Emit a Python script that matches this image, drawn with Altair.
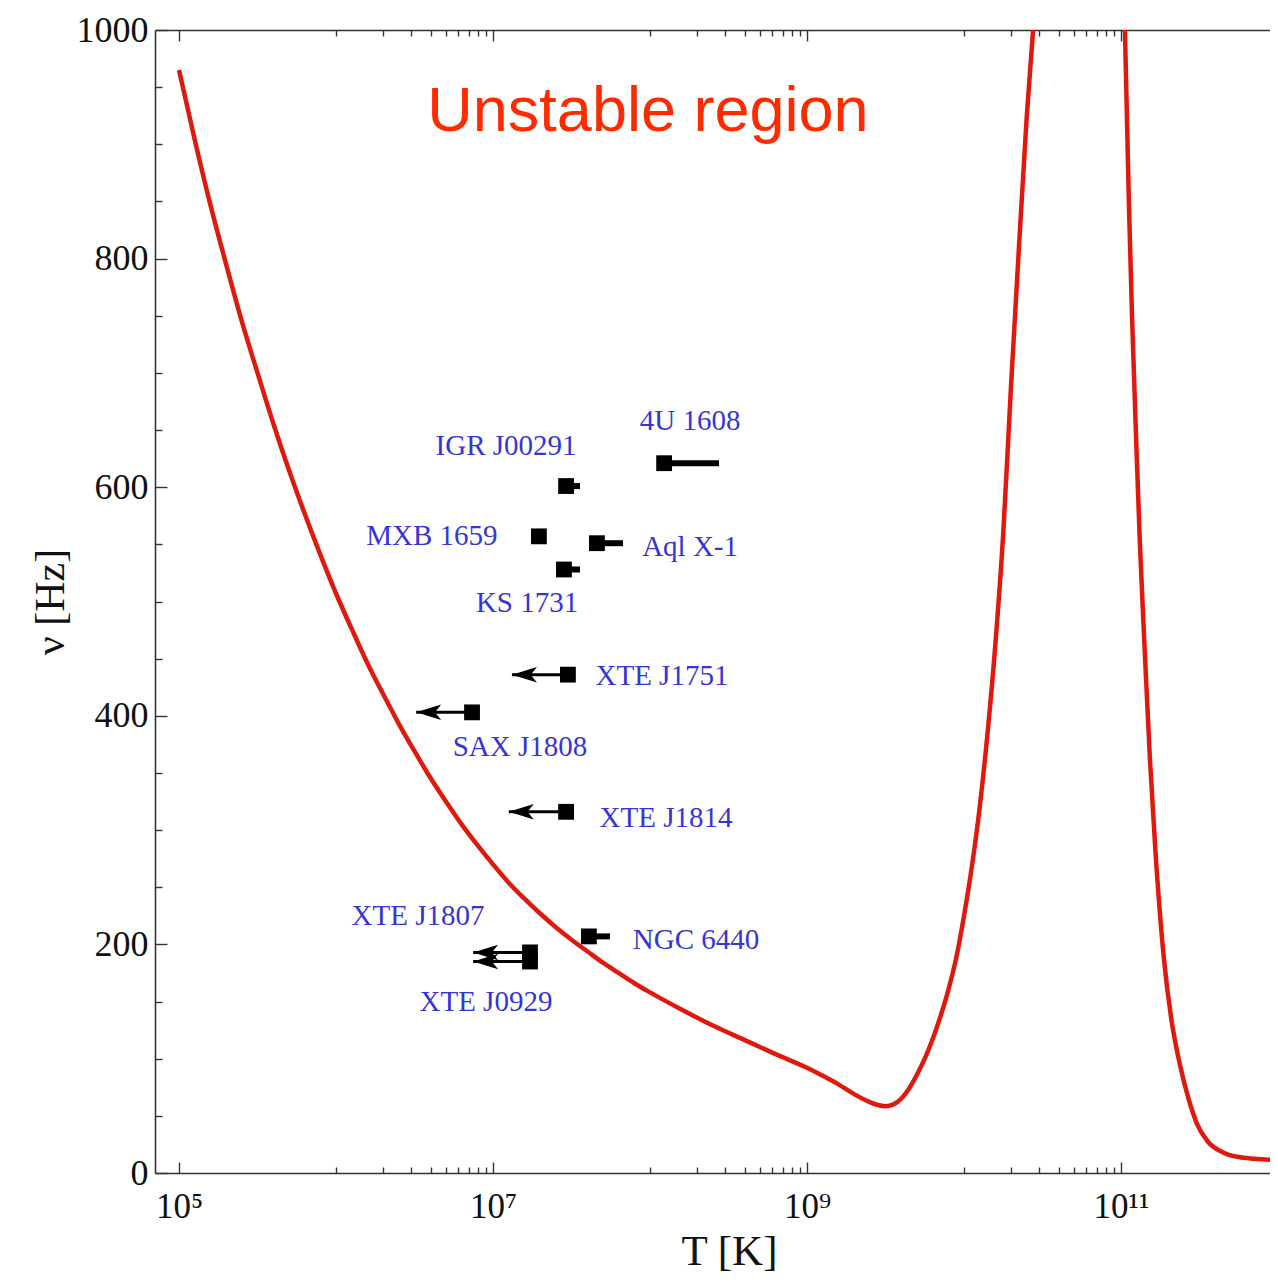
import altair as alt
import pandas as pd

# ---------------- instability curve ----------------
curve_logT = [5.0, 5.1, 5.2, 5.3, 5.4, 5.5, 5.6, 5.7, 5.8, 5.9,
              6.0, 6.1, 6.2, 6.3, 6.4, 6.5, 6.6, 6.7, 6.8, 6.9,
              7.0, 7.1, 7.2, 7.3, 7.4, 7.5, 7.6, 7.7, 7.8, 7.9,
              8.0, 8.2, 8.4, 8.6, 8.8, 9.0, 9.1, 9.2, 9.3, 9.4,
              9.45, 9.5, 9.55, 9.6, 9.65, 9.7, 9.75, 9.8, 9.85, 9.9,
              9.95, 10.0, 10.05, 10.1, 10.15, 10.2, 10.25, 10.3, 10.35, 10.4,
              10.44,
              11.025, 11.05, 11.07, 11.1, 11.12, 11.15, 11.185, 11.22, 11.27, 11.32,
              11.375, 11.43, 11.484, 11.55, 11.65, 11.75, 11.85, 11.95]
curve_nu = [965, 904, 847, 795, 745, 700, 656, 615, 577, 541,
            507, 476, 446, 419, 393, 369, 346, 325, 305, 287,
            270, 254, 240, 227, 215, 204, 194, 184, 175, 166,
            158, 143, 129, 116.5, 104, 92, 85, 77.5, 69, 62,
            59.5, 58.5, 60, 65, 74, 86, 100, 117, 137, 160,
            188, 225, 268, 320, 385, 463, 560, 690, 810, 925,
            1000,
            1000, 850, 750, 628, 552, 460, 360, 280, 192, 135,
            95, 65, 43, 28, 18, 14, 12.5, 11.5]
curve_branch = ["low"] * 61 + ["high"] * 18

# ---------------- sources ----------------
src_names = ["4U 1608", "IGR J00291", "MXB 1659", "Aql X-1", "KS 1731",
             "XTE J1751", "SAX J1808", "XTE J1814", "XTE J1807", "XTE J0929",
             "NGC 6440"]
src_T = [1.23e8, 2.92e7, 1.96e7, 4.59e7, 2.83e7,
         3.0e7, 7.35e6, 2.92e7, 1.72e7, 1.72e7, 4.08e7]
src_nu = [621, 601, 557, 551, 528, 436, 403, 316, 193, 185, 207]
src_T_end = [2.75e8, 3.58e7, 2.05e7, 6.73e7, 3.58e7,
             1.32e7, 3.24e6, 1.26e7, 7.47e6, 7.47e6, 5.56e7]
src_upper_limit = [False, False, False, False, False,
                   True, True, True, True, True, False]

# label anchors (data coordinates)
label_logT = [8.255, 7.083, 6.611, 8.255, 7.217, 8.076, 7.172, 8.102, 6.522, 6.955, 8.293]
label_nu = [658, 636, 557, 548, 499, 435, 373, 311, 225, 150, 204]

region_text = ["Unstable region"]
region_logT = [7.987]
region_nu = [912]

# ---------------- axes ----------------
x_domain_log = [4.847, 11.949]
x_major = [1e5, 1e7, 1e9, 1e11]
x_minor = [k * 10.0 ** d for d in (6, 8, 10) for k in range(1, 10)]
y_major = [0, 200, 400, 600, 800, 1000]
y_minor = [v for v in range(0, 1001, 50) if v % 200]

# ---------------- tables ----------------
curve_df = pd.DataFrame({"T": [10 ** v for v in curve_logT], "nu": curve_nu, "branch": curve_branch})
src_df = pd.DataFrame({"name": src_names, "T": src_T, "nu": src_nu, "T_end": src_T_end, "lim": src_upper_limit})
err_df = src_df[~src_df["lim"]]
lim_df = src_df[src_df["lim"]]
label_df = pd.DataFrame({"name": src_names, "T": [10 ** v for v in label_logT], "nu": label_nu})
region_df = pd.DataFrame({"txt": region_text, "T": [10 ** v for v in region_logT], "nu": region_nu})

x_scale = alt.Scale(type="log", domain=[10 ** x_domain_log[0], 10 ** x_domain_log[1]], nice=False)
y_scale = alt.Scale(domain=[0, 1000], nice=False, zero=False)

sup = "['⁰','¹','²','³','⁴','⁵','⁶','⁷','⁸','⁹','¹⁰','¹¹','¹²']"
x_label_expr = "'10' + " + sup + "[round(log(datum.value) / LN10)]"

common = dict(grid=False, tickColor="#333333", tickWidth=1.4,
              domainColor="#333333", domainWidth=1.6)

ax_bottom_major = alt.Axis(orient="bottom", values=x_major, labelExpr=x_label_expr,
                           tickSize=alt.ExprRef(expr="-11"), labelPadding=27,
                           labelFont="Liberation Serif", labelFontSize=35, labelColor="#111111",
                           title="T [K]", titleFont="Liberation Serif", titleFontSize=43,
                           titleFontWeight="normal", titleColor="#111111", titlePadding=6,
                           titleX=574, titleAlign="center", **common)
ax_bottom_minor = alt.Axis(orient="bottom", values=x_minor, labels=False, domain=False,
                           tickSize=alt.ExprRef(expr="-6"), title="", grid=False,
                           tickColor="#333333", tickWidth=1.4)
ax_top_major = alt.Axis(orient="top", values=x_major, labels=False,
                        tickSize=alt.ExprRef(expr="-11"), title="", **common)
ax_top_minor = alt.Axis(orient="top", values=x_minor, labels=False, domain=False,
                        tickSize=alt.ExprRef(expr="-6"), title="", grid=False,
                        tickColor="#333333", tickWidth=1.4)
ax_left_major = alt.Axis(orient="left", values=y_major, labelPadding=19, format="d",
                         tickSize=alt.ExprRef(expr="-12"),
                         labelFont="Liberation Serif", labelFontSize=36, labelColor="#111111",
                         title="ν [Hz]", titleFont="Liberation Serif", titleFontSize=42,
                         titleFontWeight="normal", titleColor="#111111", titlePadding=4,
                         **common)
ax_left_minor = alt.Axis(orient="left", values=y_minor, labels=False, domain=False,
                         tickSize=alt.ExprRef(expr="-7"), title="", grid=False,
                         tickColor="#333333", tickWidth=1.4)

arrow_path = "M0,0 L2,-0.62 L1.5,0 L2,0.62 Z"

curve = alt.Chart(curve_df).mark_line(color="#e0190e", strokeWidth=4.5, clip=True,
                                      interpolate="monotone").encode(
    x=alt.X("T:Q", scale=x_scale, axis=ax_bottom_major),
    y=alt.Y("nu:Q", scale=y_scale, axis=ax_left_major),
    detail="branch:N",
)

err = alt.Chart(err_df).mark_rule(color="black", strokeWidth=6).encode(
    x=alt.X("T:Q", scale=x_scale, axis=ax_bottom_minor),
    x2="T_end:Q",
    y=alt.Y("nu:Q", scale=y_scale, axis=ax_left_minor),
)

shaft = alt.Chart(lim_df).mark_rule(color="black", strokeWidth=3).encode(
    x=alt.X("T:Q", scale=x_scale, axis=ax_top_major),
    x2="T_end:Q",
    y=alt.Y("nu:Q", scale=y_scale, axis=None),
)

squares = alt.Chart(src_df).mark_point(shape="square", filled=True, size=250,
                                       color="black", opacity=1).encode(
    x=alt.X("T:Q", scale=x_scale, axis=ax_top_minor),
    y=alt.Y("nu:Q", scale=y_scale, axis=None),
)

heads = alt.Chart(lim_df).mark_point(shape=arrow_path, filled=True, size=625,
                                     color="black", opacity=1).encode(
    x=alt.X("T_end:Q", scale=x_scale, axis=None),
    y=alt.Y("nu:Q", scale=y_scale, axis=None),
)

labels = alt.Chart(label_df).mark_text(font="Liberation Serif", fontSize=29, color="#3535d6",
                                       align="center", baseline="middle").encode(
    x=alt.X("T:Q", scale=x_scale, axis=None),
    y=alt.Y("nu:Q", scale=y_scale, axis=None),
    text="name:N",
)

region = alt.Chart(region_df).mark_text(font="Liberation Sans", fontSize=63, color="#ff2a00",
                                        align="center", baseline="alphabetic").encode(
    x=alt.X("T:Q", scale=x_scale, axis=None),
    y=alt.Y("nu:Q", scale=y_scale, axis=None),
    text="txt:N",
)

chart = alt.layer(curve, err, shaft, squares, heads, labels, region).resolve_axis(
    x="independent", y="independent"
).properties(
    width=1115, height=1143,
    autosize=alt.AutoSizeParams(type="none"),
    padding={"left": 147, "top": 22, "right": 0, "bottom": 103},
).configure_view(strokeOpacity=0)

chart.save("out.html", embed_options={"renderer": "svg", "actions": False})
